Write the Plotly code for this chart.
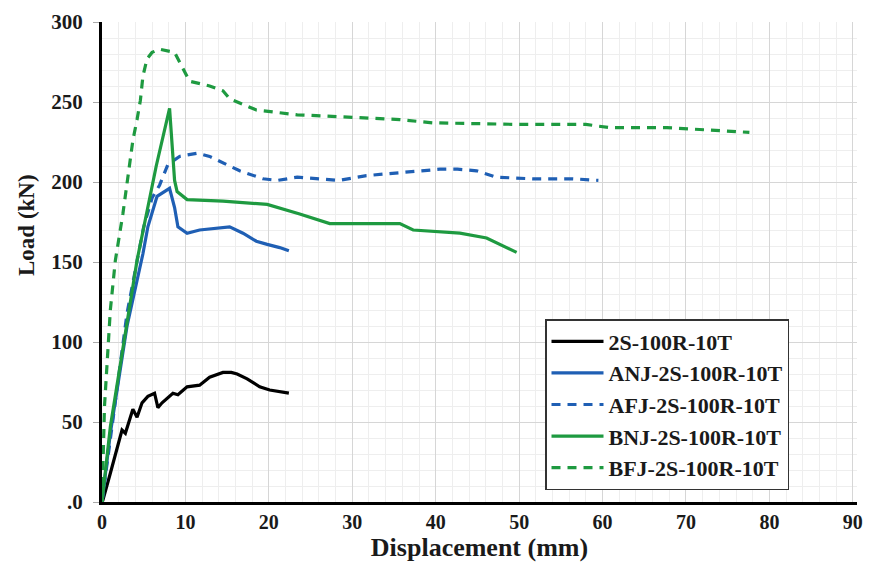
import plotly.graph_objects as go

# ---- data (Displacement mm, Load kN) ----
s2_x = [0, 0.1, 1.0, 1.8, 2.4, 2.8, 3.4, 3.7, 4.2, 4.8, 5.5, 6.3, 6.7, 7.2, 8.5, 9.1, 10.2, 11.7, 12.9, 14.5, 15.5, 16.2, 17.4, 18.9, 20.1, 21.3, 22.4]
s2_y = [0, 1, 18, 34, 45, 43, 53, 58, 53, 62, 66, 68, 59, 62, 68, 67, 72, 73, 78, 81, 81, 80, 77, 72, 70, 69, 68]

anj_x = [0, 1.0, 3.0, 4.9, 5.5, 6.6, 8.1, 8.7, 9.1, 10.2, 11.7, 13.8, 15.3, 16.9, 18.5, 19.8, 21.3, 22.4]
anj_y = [0, 43, 110, 155, 172, 191, 196, 184, 172, 168, 170, 171, 172, 168, 163, 161, 159, 157]

afj_x = [0, 1.0, 3.0, 5.0, 6.0, 6.9, 7.9, 9.3, 11.4, 12.9, 14.5, 16.5, 19.3, 21.0, 23.4, 26.5, 28.4, 31.7, 35.7, 40.5, 42.6, 44.9, 47.3, 51.6, 56.4, 59.5]
afj_y = [0, 40, 118, 172, 190, 198, 211, 216, 218, 216, 212, 207, 202, 201, 203, 202, 201, 204, 206, 208, 208, 207, 203, 202, 202, 201]

bnj_x = [0, 0.4, 1.0, 4.2, 6.5, 8.1, 8.7, 9.0, 10.2, 14.5, 19.8, 23.7, 27.3, 35.7, 37.3, 42.9, 46.1, 49.7]
bnj_y = [0, 18, 47, 151, 210, 246, 201, 194, 189, 188, 186, 180, 174, 174, 170, 168, 165, 156]

bfj_x = [0, 0.3, 1.0, 1.6, 2.5, 3.4, 3.7, 4.2, 4.6, 4.9, 5.4, 6.0, 6.9, 8.7, 9.6, 10.5, 12.9, 14.5, 15.3, 18.5, 23.4, 28.0, 35.7, 39.6, 49.7, 58.0, 60.8, 67.7, 73.7, 77.6]
bfj_y = [0, 60, 120, 151, 180, 212, 226, 239, 251, 266, 277, 281, 283, 281, 272, 263, 260, 257, 252, 245, 242, 241, 239, 237, 236, 236, 234, 234, 232, 231]

names = ["2S-100R-10T", "ANJ-2S-100R-10T", "AFJ-2S-100R-10T", "BNJ-2S-100R-10T", "BFJ-2S-100R-10T"]
x_ticks = [0, 10, 20, 30, 40, 50, 60, 70, 80, 90]
y_ticks = [0, 50, 100, 150, 200, 250, 300]
y_tick_text = [".0", "50", "100", "150", "200", "250", "300"]
x_title = "Displacement (mm)"
y_title = "Load (kN)"

BLACK = "#000000"
BLUE = "#1f5fb4"
GREEN = "#1e9a40"
DASH = "9px,7px"

series = [
    (s2_x, s2_y, BLACK, "solid"),
    (anj_x, anj_y, BLUE, "solid"),
    (afj_x, afj_y, BLUE, DASH),
    (bnj_x, bnj_y, GREEN, "solid"),
    (bfj_x, bfj_y, GREEN, DASH),
]

fig = go.Figure()
for i, (xs, ys, c, d) in enumerate(series):
    fig.add_trace(go.Scatter(
        x=xs, y=ys, mode="lines", name=names[i],
        line=dict(color=c, width=3.2, dash=d),
    ))

FONT = "Liberation Serif"
TXT = "#1a1a1a"
PLOT_W = 755
PLOT_H = 480
fig.update_layout(
    width=869, height=563,
    margin=dict(l=102, r=12, t=22, b=61),
    paper_bgcolor="white", plot_bgcolor="white",
    font=dict(family=FONT, color=TXT),
    showlegend=True,
    legend=dict(
        x=(545 - 102) / PLOT_W, y=(502 - 319) / PLOT_H, xanchor="left", yanchor="top",
        bgcolor="white", bordercolor="#333333", borderwidth=1.5,
        font=dict(family=FONT, size=22, color=TXT, weight="bold"),
        itemwidth=52, tracegroupgap=0,
    ),
    xaxis=dict(
        range=[0, 90.5], tickvals=x_ticks, automargin=False,
        tickfont=dict(family=FONT, size=20, color=TXT, weight="bold"),
        title=dict(text=x_title, font=dict(family=FONT, size=26, color=TXT, weight="bold"), standoff=6),
        showgrid=True, gridcolor="#d6d6d6", gridwidth=1,
        minor=dict(dtick=2, showgrid=True, gridcolor="#eeeeee", gridwidth=1),
        showline=True, linecolor="black", linewidth=3,
        ticks="", zeroline=False,
    ),
    yaxis=dict(
        range=[0, 300], tickvals=y_ticks, ticktext=y_tick_text, automargin=False,
        tickfont=dict(family=FONT, size=21, color=TXT, weight="bold"),
        showgrid=True, gridcolor="#d6d6d6", gridwidth=1,
        minor=dict(dtick=10, showgrid=True, gridcolor="#eeeeee", gridwidth=1),
        showline=True, linecolor="black", linewidth=3,
        ticks="outside", ticklen=6, tickcolor="#aaaaaa", zeroline=False,
        ticklabelstandoff=6,
    ),
    annotations=[dict(
        text=y_title, textangle=-90, showarrow=False,
        xref="paper", yref="paper",
        x=(26 - 102) / PLOT_W, y=(502 - 225) / PLOT_H,
        xanchor="center", yanchor="middle",
        font=dict(family=FONT, size=23, color=TXT, weight="bold"),
    )],
)

fig.write_html("out.html")
